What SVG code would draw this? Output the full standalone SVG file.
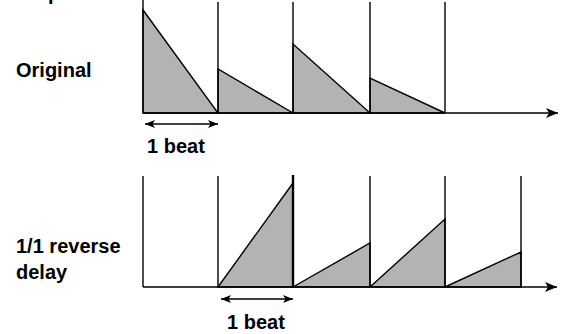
<svg xmlns="http://www.w3.org/2000/svg" width="563" height="334" viewBox="0 0 563 334">
<defs>
<style>
.lbl{font-family:"Liberation Sans",Arial,Helvetica,sans-serif;font-weight:bold;font-size:20px;fill:#000}
.ax{stroke:#000;stroke-width:1.5;fill:none}
.vl{stroke:#000;stroke-width:1.4;fill:none}
.tri{fill:#b3b3b3;stroke:#000;stroke-width:1.4;stroke-linejoin:miter}
.dim{stroke:#000;stroke-width:1.3;fill:none}
</style>
<marker id="axArrow" viewBox="0 0 12 10" refX="12" refY="5" markerWidth="12" markerHeight="10" markerUnits="userSpaceOnUse" orient="auto">
<path d="M0,0 L12,5 L0,10 L3,5 Z" fill="#000"/>
</marker>
<marker id="dimEnd" viewBox="0 0 10 8" refX="10" refY="4" markerWidth="10" markerHeight="8" markerUnits="userSpaceOnUse" orient="auto-start-reverse">
<path d="M0,0 L10,4 L0,8 L2.5,4 Z" fill="#000"/>
</marker>
</defs>
<rect width="563" height="334" fill="#fff"/>

<text class="lbl" x="48" y="0">p</text>

<g id="original">
<text class="lbl" x="16" y="77">Original</text>
<polygon class="tri" points="143,10 143,113 218,113"/>
<polygon class="tri" points="218,69 218,113 293,113"/>
<polygon class="tri" points="293,44 293,113 370,113"/>
<polygon class="tri" points="370,78 370,113 445,113"/>
</g>

<g id="reverse">
<text class="lbl" x="16" y="253">1/1 reverse</text>
<text class="lbl" x="16" y="279">delay</text>
<polygon class="tri" points="218,287 293,183 293,287"/>
<polygon class="tri" points="293,287 370,243 370,287"/>
<polygon class="tri" points="370,287 445,219 445,287"/>
<polygon class="tri" points="445,287 521,252 521,287"/>
</g>

<g id="connectors">
<line class="vl" x1="143" y1="0" x2="143" y2="113"/>
<line class="vl" x1="218" y1="2" x2="218" y2="113"/>
<line class="vl" x1="293" y1="2" x2="293" y2="113"/>
<line class="vl" x1="370" y1="2" x2="370" y2="113"/>
<line class="vl" x1="445" y1="2" x2="445" y2="113"/>
<line class="ax" x1="143" y1="113" x2="558" y2="113" marker-end="url(#axArrow)"/>

<line class="vl" x1="143" y1="176" x2="143" y2="287"/>
<line class="vl" x1="218" y1="176" x2="218" y2="287"/>
<line class="vl" x1="293" y1="175" x2="293" y2="287" style="stroke-width:2.4"/>
<line class="vl" x1="370" y1="176" x2="370" y2="287"/>
<line class="vl" x1="445" y1="176" x2="445" y2="287"/>
<line class="vl" x1="521" y1="176" x2="521" y2="287"/>
<line class="ax" x1="143" y1="287" x2="557" y2="287" marker-end="url(#axArrow)"/>

<line class="dim" x1="145" y1="124" x2="218" y2="124" marker-start="url(#dimEnd)" marker-end="url(#dimEnd)"/>
<line class="dim" x1="221" y1="299" x2="293" y2="299" marker-start="url(#dimEnd)" marker-end="url(#dimEnd)"/>
</g>

<g id="beat-labels">
<text class="lbl" x="147" y="153">1 beat</text>
<text class="lbl" x="227" y="329">1 beat</text>
</g>
</svg>
